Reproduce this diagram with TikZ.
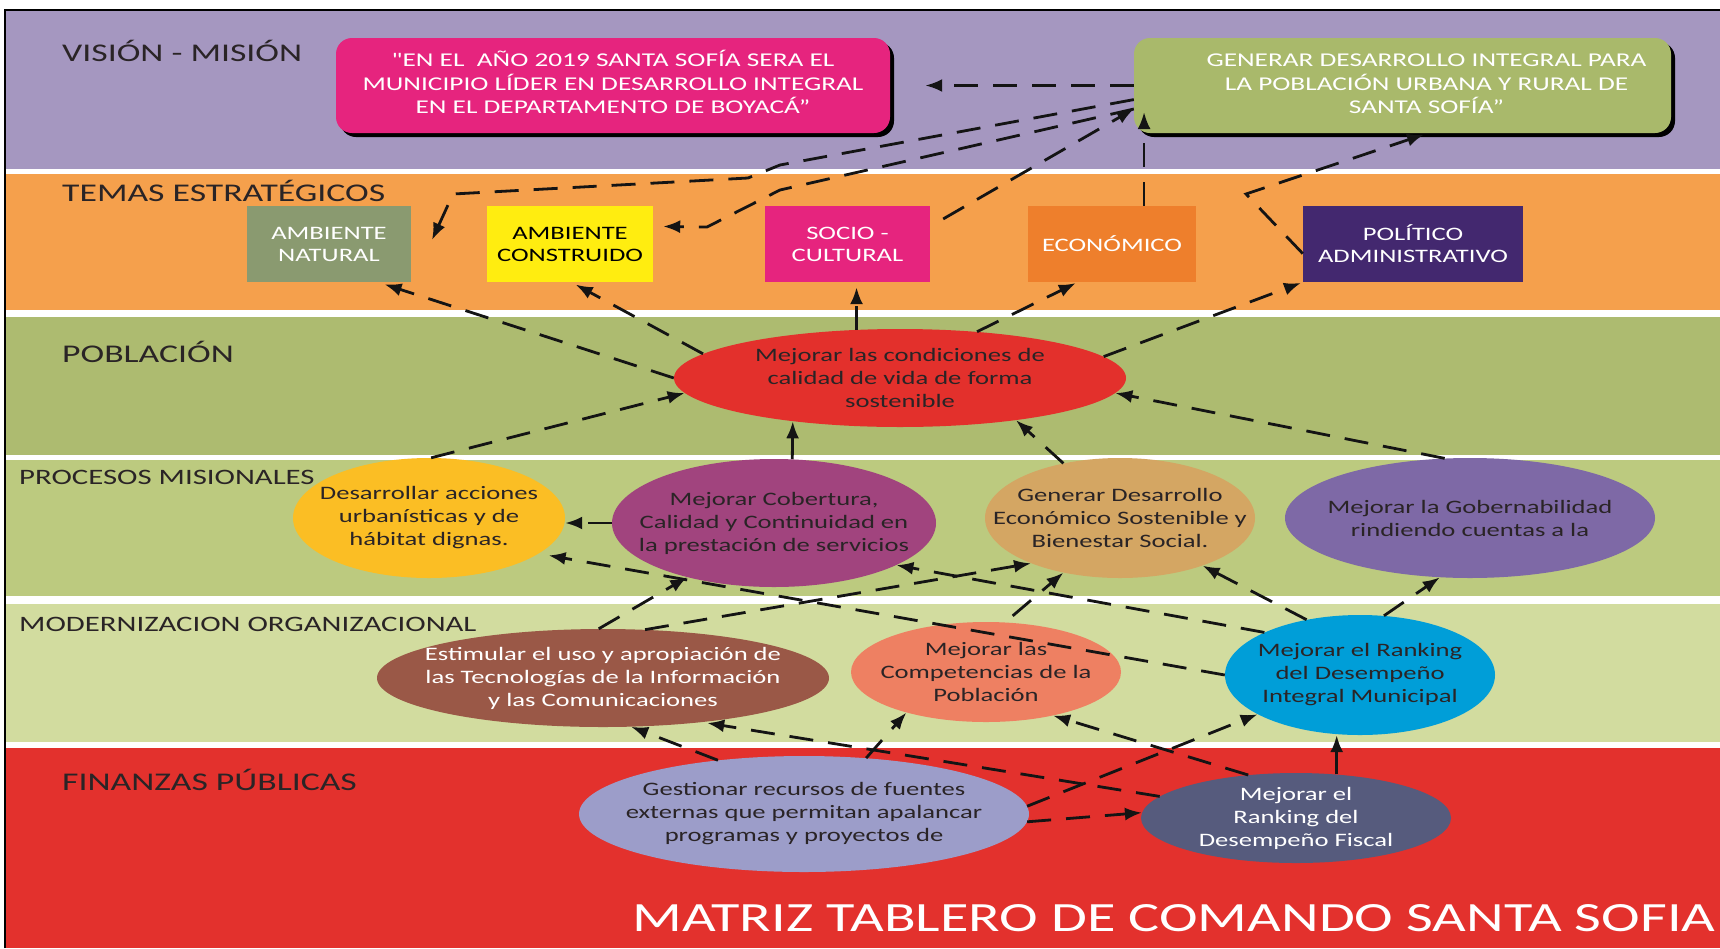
\documentclass[tikz,border=0pt]{standalone}
\usepackage{fontspec}
\setmainfont{Carlito}[FakeStretch=1.4, Ligatures=TeXOff]
\usetikzlibrary{arrows.meta,shapes.geometric,shadows}
\definecolor{cVis}{HTML}{A597C0}
\definecolor{cTem}{HTML}{F5A04C}
\definecolor{cPob}{HTML}{ADBB70}
\definecolor{cPro}{HTML}{BCCA7F}
\definecolor{cMod}{HTML}{D2DC9F}
\definecolor{cFin}{HTML}{E3312D}
\definecolor{cVisionBox}{HTML}{E6247E}
\definecolor{cMisionBox}{HTML}{A9B96B}
\definecolor{cNat}{HTML}{8A9A70}
\definecolor{cCons}{HTML}{FFED10}
\definecolor{cSoc}{HTML}{E6247E}
\definecolor{cEco}{HTML}{EE7F2C}
\definecolor{cPol}{HTML}{43286F}
\definecolor{cPobE}{HTML}{E3302C}
\definecolor{cDes}{HTML}{FBBE24}
\definecolor{cCob}{HTML}{A1447E}
\definecolor{cGen}{HTML}{D4A663}
\definecolor{cGob}{HTML}{7E69A6}
\definecolor{cEst}{HTML}{9A5847}
\definecolor{cCom}{HTML}{EE8062}
\definecolor{cRan}{HTML}{009ED8}
\definecolor{cGes}{HTML}{9C9DC9}
\definecolor{cFis}{HTML}{565B7D}
\definecolor{txt}{HTML}{2A2426}
\begin{document}
\begin{tikzpicture}[x=1pt,y=-1pt,
  bandlbl/.style={anchor=west, inner sep=0pt, text=txt, font=\fontsize{25.5}{30}\selectfont},
  bandlblsmall/.style={bandlbl, font=\fontsize{22}{26}\selectfont},
  rbox/.style={rectangle, rounded corners=16pt, inner sep=0pt, text=white,
     font=\fontsize{19.5}{23.5}\selectfont,
     general shadow={fill=black, shadow xshift=4pt, shadow yshift=-4pt}},
  tema/.style={rectangle, inner sep=0pt, minimum height=76pt, align=center,
     font=\fontsize{19}{22}\selectfont},
  ell/.style={ellipse, inner xsep=-40pt, inner ysep=-10pt, align=center, text=txt,
     font=\fontsize{19}{23}\selectfont},
  arr/.style={draw=black!92, line width=2.8pt, dash pattern=on 24pt off 15pt,
     -{Latex[length=17pt,width=13pt]}}
]
\useasboundingbox (0,0) rectangle (1720,948);
% bands
\fill[white] (0,0) rectangle (1720,948);
\fill[cVis] (6,10) rectangle (1720,169);
\fill[cTem] (6,174) rectangle (1720,310);
\fill[cPob] (6,317) rectangle (1720,455);
\fill[cPro] (6,460) rectangle (1720,596);
\fill[cMod] (6,604) rectangle (1720,742);
\fill[cFin] (6,748) rectangle (1720,948);
\draw[line width=1.2pt] (5,948) -- (5,10) -- (1720,10);

% band labels
\node[bandlbl] (lblVis) at (62,51) {VISIÓN - MISIÓN};
\node[bandlbl] (lblTem) at (62,191) {TEMAS ESTRATÉGICOS};
\node[bandlbl] (lblPob) at (62,352) {POBLACIÓN};
\node[bandlblsmall] (lblPro) at (19,477) {PROCESOS MISIONALES};
\node[bandlblsmall] (lblMod) at (19,624) {MODERNIZACION ORGANIZACIONAL};
\node[bandlbl] (lblFin) at (62,780) {FINANZAS PÚBLICAS};
\node[inner sep=0pt, text=white, font=\fontsize{41.6}{48}\selectfont] (titulo) at (1174,918)
  {MATRIZ TABLERO DE COMANDO SANTA SOFIA};

% vision / mision
\node[rbox, fill=cVisionBox, minimum width=554pt, minimum height=95pt] (vision) at (613,85.5)
  {\begin{tabular}{@{}c@{}}"EN EL~ AÑO 2019 SANTA SOFÍA SERA EL\\MUNICIPIO LÍDER EN DESARROLLO INTEGRAL\\EN EL DEPARTAMENTO DE BOYACÁ”\end{tabular}};
\node[rbox, fill=cMisionBox, minimum width=537pt, minimum height=95pt] (mision) at (1402.5,85.5)
  {\hspace*{48pt}\begin{tabular}{@{}c@{}}GENERAR DESARROLLO INTEGRAL PARA\\LA POBLACIÓN URBANA Y RURAL DE\\SANTA SOFÍA”\end{tabular}};

% temas
\node[tema, fill=cNat, text=white, minimum width=164pt] (natural) at (329,244) {AMBIENTE\\NATURAL};
\node[tema, fill=cCons, text=black, minimum width=166pt] (construido) at (570,244) {AMBIENTE\\CONSTRUIDO};
\node[tema, fill=cSoc, text=white, minimum width=165pt] (socio) at (847.5,244) {SOCIO -\\CULTURAL};
\node[tema, fill=cEco, text=white, minimum width=168pt] (economico) at (1112,244) {ECONÓMICO};
\node[tema, fill=cPol, text=white, minimum width=220pt] (politico) at (1413,244) {POLÍTICO\\ADMINISTRATIVO};

% ellipses
\node[ell, fill=cPobE, minimum width=452pt, minimum height=98pt] (pob) at (900,378)
  {Mejorar las condiciones de\\calidad de vida de forma\\sostenible};
\node[ell, fill=cDes, minimum width=272pt, minimum height=120pt] (desarrollar) at (429,518)
  {Desarrollar acciones\\urbanísticas y de\\hábitat dignas.};
\node[ell, fill=cCob, minimum width=324pt, minimum height=128pt] (cobertura) at (774,523)
  {Mejorar Cobertura,\\Calidad y Continuidad en\\la prestación de servicios};
\node[ell, fill=cGen, minimum width=270pt, minimum height=120pt] (generar) at (1120,518)
  {Generar Desarrollo\\Económico Sostenible y\\Bienestar Social.};
\node[ell, fill=cGob, minimum width=370pt, minimum height=120pt] (gob) at (1470,518)
  {Mejorar la Gobernabilidad\\rindiendo cuentas a la};
\node[ell, fill=cEst, text=white, minimum width=452pt, minimum height=98pt] (estimular) at (603,678)
  {Estimular el uso y apropiación de\\las Tecnologías de la Información\\y las Comunicaciones};
\node[ell, fill=cCom, minimum width=270pt, minimum height=100pt] (competencias) at (986,672)
  {Mejorar las\\Competencias de la\\Población};
\node[ell, fill=cRan, minimum width=270pt, minimum height=120pt] (ranking) at (1360,675)
  {Mejorar el Ranking\\del Desempeño\\Integral Municipal};
\node[ell, fill=cGes, minimum width=450pt, minimum height=116pt] (gestionar) at (804,814)
  {Gestionar recursos de fuentes\\externas que permitan apalancar\\programas y proyectos de};
\node[ell, fill=cFis, text=white, minimum width=310pt, minimum height=90pt] (fiscal) at (1296,818)
  {Mejorar el\\Ranking del\\Desempeño Fiscal};

% free arrow ends
\coordinate (tipNat) at (432,240);
\coordinate (tipEco) at (1143,112);

% vision-mision-temas
\draw[arr, shorten >=35pt] (mision.west) -- (vision.east);
\draw[arr] (mision.183) -- (780,165) -- (748,178) -- (453,194) -- (tipNat);
\draw[arr, shorten >=10pt] (mision.185) -- (780,190) -- (707,227) -- (construido.12);
\draw[arr, shorten <=15pt] (socio.12) -- (mision.185);
\draw[arr] (economico.50) -- (economico.50 |- tipEco);
\draw[arr, shorten >=4pt] (politico.185) -- (1246,194) -- (mision.-62);

% poblacion -> temas
\draw[arr, shorten >=7pt] (pob.west) -- (natural.-38);
\draw[arr, shorten >=5pt] (pob.173.5) -- (construido.-88);
\draw[arr, shorten >=5pt] (pob.132.5) -- (pob.132.5 |- socio.south);
\draw[arr, shorten >=2pt] (pob.31.5) -- (economico.-132.6);
\draw[arr, shorten >=2pt] (pob.6.5) -- (politico.south west);

% procesos -> poblacion
\draw[arr] (desarrollar.88) -- (pob.184.5);
\draw[arr] (cobertura.74.3) -- (pob.-158.3);
\draw[arr] (generar.136.5) -- (pob.-20.3);
\draw[arr] (gob.113) -- (pob.-4.2);
\draw[arr] (cobertura.west) -- (cobertura.west -| desarrollar.east);

% modernizacion -> procesos
\draw[arr, shorten >=10pt] (ranking.west) -- (desarrollar.-18);
\draw[arr] (ranking.156.6) -- (cobertura.-19);
\draw[arr] (ranking.134) -- (generar.-30.2);
\draw[arr] (ranking.68.2) -- (gob.-117.3);
\draw[arr] (estimular.95) -- (cobertura.-148.9);
\draw[arr] (estimular.49) -- (generar.-153.4);
\draw[arr, shorten <=10pt] (competencias.69.5) -- (generar.-136.9);

% finanzas -> modernizacion
\draw[arr] (gestionar.148.5) -- (estimular.-60.3);
\draw[arr, shorten >=5pt] (fiscal.171.8) -- (estimular.-24.1);
\draw[arr] (gestionar.42.1) -- (competencias.-153.1);
\draw[arr] (fiscal.138.6) -- (competencias.-33.1);
\draw[arr] (gestionar.2.1) -- (ranking.-159.5);
\draw[arr] (fiscal.47.4) -- (fiscal.47.4 |- ranking.south);
\draw[arr] (gestionar.-2.8) -- (fiscal.178);
\end{tikzpicture}
\end{document}
